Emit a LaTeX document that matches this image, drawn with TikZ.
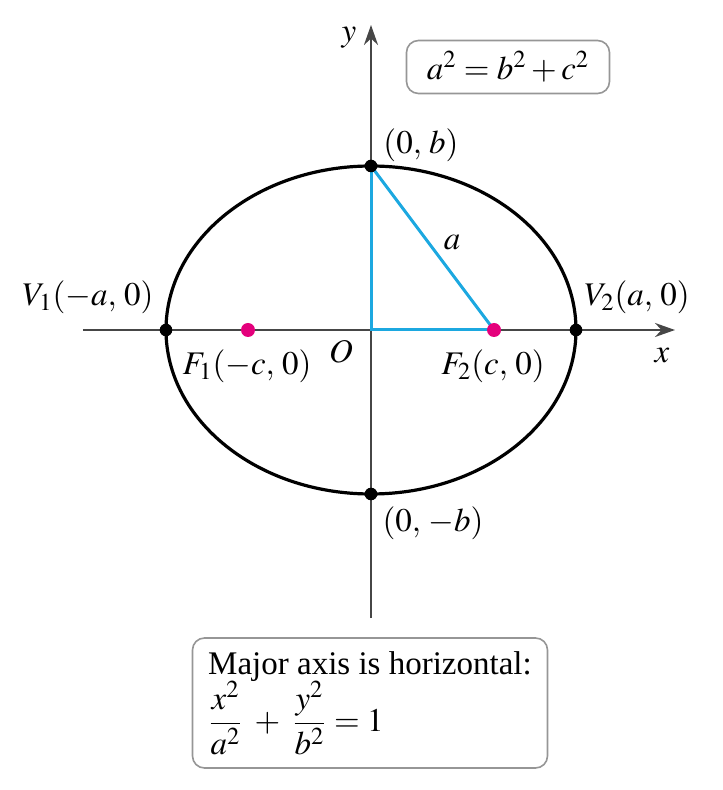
\documentclass[tikz,border=0pt]{standalone}
\usepackage{mathptmx}
\usepackage{fontspec}
\setmainfont{Liberation Serif}
\usepackage{amsmath}
\usetikzlibrary{arrows.meta}
\definecolor{focuspink}{RGB}{228,0,124}
\definecolor{legcyan}{RGB}{28,168,224}
\definecolor{axisgray}{RGB}{70,70,70}
\definecolor{boxgray}{RGB}{150,150,150}
\tikzset{
  axis/.style = {draw=axisgray, line width=1.1pt, -{Stealth[length=10pt, width=7pt]}},
  curve/.style = {draw=black, line width=1.6pt},
  leg/.style = {draw=legcyan, line width=1.5pt},
  vdot/.style = {circle, fill=black, inner sep=0pt, minimum size=6.3pt},
  fdot/.style = {circle, fill=focuspink, inner sep=0pt, minimum size=7pt},
  lbl/.style = {inner sep=0pt, font=\fontsize{16.5}{19}\selectfont},
  formbox/.style = {draw=boxgray, line width=0.8pt, rounded corners=6pt,
    font=\fontsize{16.5}{19}\selectfont}
}

\begin{document}
\begin{tikzpicture}[x=0.5pt, y=0.5pt]
  \useasboundingbox (-371,-460) rectangle (351,330);

  % points
  \coordinate (O) at (0,0);
  \coordinate (V1) at (-205,0);
  \coordinate (V2) at (205,0);
  \coordinate (F1) at (-123,0);
  \coordinate (F2) at (123,0);
  \coordinate (B1) at (0,164);
  \coordinate (B2) at (0,-164);
  \coordinate (xl) at (-288,0);
  \coordinate (xr) at (304,0);
  \coordinate (yb) at (0,-288);
  \coordinate (yt) at (0,305);

  % axes
  \draw[axis] (xl) -- (xr);
  \draw[axis] (yb) -- (yt);

  % ellipse
  \draw[curve] (O) ellipse [x radius=205, y radius=164];

  % triangle
  \draw[leg] (B1) -- (O) -- (F2);
  \draw[leg] (B1) -- (F2);

  % dots
  \node[vdot] (v1dot) at (V1) {};
  \node[vdot] (v2dot) at (V2) {};
  \node[vdot] (b1dot) at (B1) {};
  \node[vdot] (b2dot) at (B2) {};
  \node[fdot] (f1dot) at (F1) {};
  \node[fdot] (f2dot) at (F2) {};

  % labels
  \node[lbl] (ylbl) at (-22,292) {$y$};
  \node[lbl] (xlbl) at (291,-26) {$x$};
  \node[lbl] (olbl) at (-30,-22) {$O$};
  \node[lbl] (alabel) at (81,87) {$a$};
  \node[lbl] (b1lbl) at (50,185) {$(0,\, b)$};
  \node[lbl] (b2lbl) at (62,-193) {$(0,\, -b)$};
  \node[lbl] (v1lbl) at (-283,33) {$V_1(-a,\, 0)$};
  \node[lbl] (v2lbl) at (266,33) {$V_2(a,\, 0)$};
  \node[lbl] (f1lbl) at (-124,-36) {$F_1(-c,\, 0)$};
  \node[lbl] (f2lbl) at (122,-36) {$F_2(c,\, 0)$};

  % boxes
  \node[formbox, minimum width=101.5pt, minimum height=26.5pt] (rel) at (137,263)
    {$a^2 = b^2 + c^2$};
  \node[formbox, minimum width=177.5pt, minimum height=65pt, align=left] (eqn) at (-1,-373)
    {Major axis is horizontal:\\[-1pt]
     $\dfrac{x^2}{a^2} \;+\; \dfrac{y^2}{b^2} = 1$};
\end{tikzpicture}
\end{document}
